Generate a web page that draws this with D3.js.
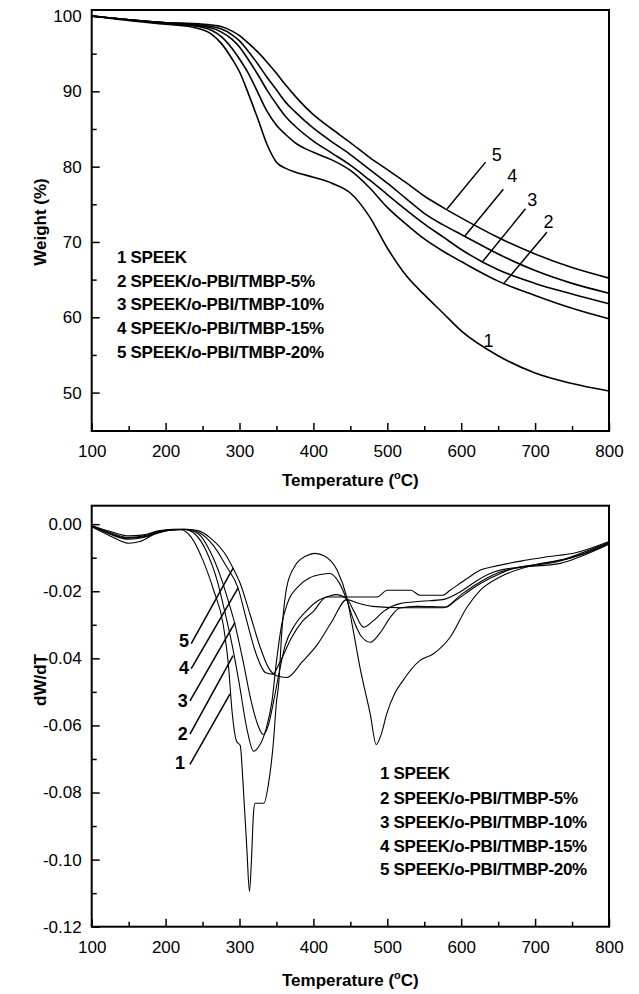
<!DOCTYPE html>
<html>
<head>
<meta charset="utf-8">
<script src="https://cdn.jsdelivr.net/npm/d3@7"></script>
<style>
body { margin: 0; background: #fff; }
text { font-family: Arial, "Liberation Sans", sans-serif; fill: #000; }
</style>
</head>
<body>
<div id="chart"></div>
<script>
// TGA: weight (%) vs temperature, one value per temperature in tgaTemps
const tgaTemps = [100, 150, 200, 237, 262, 275, 290, 300, 312, 325, 337, 350, 362, 375, 400, 425, 450, 475, 500, 525, 550, 575, 600, 650, 700, 750, 800];
const tga1 = [100, 99.4, 98.9, 98.5, 97.6, 96.4, 94.3, 92.6, 89.7, 86.3, 83.0, 80.6, 79.8, 79.3, 78.6, 77.8, 76.5, 73.5, 69.2, 65.6, 63.0, 60.6, 58.2, 54.9, 52.6, 51.2, 50.2];
const tga2 = [100, 99.5, 99.0, 98.7, 98.1, 97.3, 95.7, 94.3, 92.4, 89.8, 87.4, 85.5, 84.3, 83.2, 81.9, 80.9, 79.5, 77.3, 74.6, 72.4, 70.4, 68.8, 67.4, 64.8, 62.9, 61.2, 59.8];
const tga3 = [100, 99.5, 99.1, 98.8, 98.4, 97.9, 96.9, 95.9, 94.2, 92.2, 90.2, 88.3, 86.7, 85.4, 83.4, 81.8, 80.2, 78.3, 76.3, 74.3, 72.4, 70.7, 69.0, 66.3, 64.5, 63.1, 61.8];
const tga4 = [100, 99.5, 99.1, 98.9, 98.6, 98.3, 97.5, 96.7, 95.3, 93.6, 91.9, 90.2, 88.6, 87.3, 85.1, 83.3, 81.6, 79.7, 77.8, 75.8, 73.8, 72.3, 71.0, 68.4, 66.2, 64.5, 63.2];
const tga5 = [100, 99.5, 99.1, 99.0, 98.8, 98.6, 98.0, 97.4, 96.4, 95.2, 93.9, 92.4, 90.9, 89.4, 86.9, 85.0, 83.2, 81.3, 79.6, 77.9, 76.1, 74.6, 73.2, 70.6, 68.4, 66.6, 65.2];

// DTG: [temperature, dW/dT] pairs
const dtg1 = [[100,-0.0008],[125,-0.0035],[150,-0.0057],[165,-0.0052],[185,-0.003],[205,-0.0018],[220,-0.0016],[235,-0.004],[250,-0.0105],[265,-0.0197],[278,-0.030],[285,-0.042],[290,-0.056],[296,-0.0647],[301,-0.066],[305,-0.078],[310,-0.097],[313.5,-0.1095],[316,-0.101],[319,-0.086],[321,-0.0832],[333,-0.0832],[339,-0.0777],[346,-0.0647],[350,-0.053],[353,-0.0477],[357,-0.033],[364,-0.0187],[375,-0.0125],[390,-0.0095],[402,-0.0087],[415,-0.0095],[432,-0.0137],[445,-0.0217],[455,-0.033],[463,-0.0427],[477,-0.0567],[485,-0.0657],[492,-0.0625],[499,-0.0567],[510,-0.0505],[520,-0.047],[544,-0.0407],[562,-0.0387],[585,-0.0337],[608,-0.0247],[626,-0.0197],[653,-0.0157],[698,-0.0122],[743,-0.0102],[770,-0.008],[800,-0.0055]];
const dtg2 = [[100,-0.0005],[125,-0.003],[150,-0.0045],[170,-0.004],[190,-0.0025],[210,-0.0017],[225,-0.0016],[240,-0.003],[255,-0.008],[270,-0.017],[280,-0.026],[290,-0.036],[300,-0.048],[310,-0.061],[319,-0.0677],[327,-0.066],[336,-0.061],[344,-0.0527],[350,-0.041],[357,-0.030],[365,-0.0235],[380,-0.0185],[395,-0.016],[410,-0.015],[422,-0.0147],[435,-0.0175],[445,-0.0225],[455,-0.029],[465,-0.0335],[477,-0.0352],[490,-0.0325],[505,-0.0275],[517,-0.025],[540,-0.0245],[580,-0.0247],[590,-0.0232],[626,-0.0177],[653,-0.0147],[671,-0.0132],[734,-0.0117],[761,-0.0097],[800,-0.006]];
const dtg3 = [[100,-0.0005],[125,-0.0028],[150,-0.0042],[170,-0.0038],[190,-0.0024],[210,-0.0017],[225,-0.0016],[245,-0.003],[260,-0.008],[275,-0.016],[285,-0.023],[294,-0.030],[305,-0.041],[315,-0.052],[325,-0.060],[332,-0.0627],[339,-0.060],[346,-0.053],[353,-0.045],[362,-0.036],[375,-0.030],[390,-0.026],[405,-0.023],[418,-0.0217],[430,-0.021],[445,-0.0222],[455,-0.026],[468,-0.0307],[480,-0.029],[495,-0.026],[517,-0.0237],[545,-0.023],[575,-0.0225],[600,-0.020],[620,-0.017],[645,-0.0142],[690,-0.0125],[730,-0.011],[765,-0.009],[800,-0.0058]];
const dtg4 = [[100,-0.0005],[125,-0.0025],[150,-0.004],[170,-0.0035],[190,-0.0022],[210,-0.0016],[225,-0.0015],[245,-0.0025],[265,-0.0065],[282,-0.0125],[298,-0.019],[310,-0.029],[323,-0.039],[335,-0.0442],[345,-0.0447],[355,-0.041],[370,-0.034],[385,-0.029],[400,-0.026],[418,-0.0217],[440,-0.0217],[486,-0.0217],[500,-0.0197],[532,-0.0197],[544,-0.0212],[575,-0.0212],[585,-0.0197],[608,-0.0162],[626,-0.0137],[643,-0.0127],[689,-0.0107],[716,-0.0097],[752,-0.0087],[800,-0.0052]];
const dtg5 = [[100,-0.0005],[125,-0.0022],[150,-0.0035],[170,-0.0032],[190,-0.002],[210,-0.0015],[230,-0.0015],[245,-0.002],[260,-0.004],[283,-0.0097],[291,-0.013],[301,-0.0177],[314,-0.0267],[328,-0.0367],[339,-0.0427],[350,-0.0452],[364,-0.0457],[385,-0.041],[405,-0.036],[425,-0.029],[445,-0.0225],[460,-0.0235],[480,-0.0245],[520,-0.0249],[576,-0.0249],[600,-0.021],[620,-0.018],[650,-0.0145],[680,-0.0128],[730,-0.0112],[765,-0.0088],[800,-0.0055]];

const legendNames = ["1 SPEEK", "2 SPEEK/o-PBI/TMBP-5%", "3 SPEEK/o-PBI/TMBP-10%", "4 SPEEK/o-PBI/TMBP-15%", "5 SPEEK/o-PBI/TMBP-20%"];

const tempTicks = [100, 200, 300, 400, 500, 600, 700, 800];
const tempMinor = [150, 250, 350, 450, 550, 650, 750];
const weightTicks = [50, 60, 70, 80, 90, 100];
const weightMinor = [55, 65, 75, 85, 95];
const dtgTicks = [0, -0.02, -0.04, -0.06, -0.08, -0.10, -0.12];
const dtgMinor = [-0.01, -0.03, -0.05, -0.07, -0.09, -0.11];

// curve number labels: [label, textT, textY, leaderT0, leaderY0, leaderT1, leaderY1]
const tgaCallouts = [
    ["5", 648, 81.5, 633, 80.6, 581, 74.4],
    ["4", 669, 78.8, 657, 77.0, 605, 70.8],
    ["3", 696, 75.6, 687, 74.4, 629, 67.4],
    ["2", 718, 72.6, 716, 71.3, 657, 64.4]
];
const tgaOne = ["1", 637, 56.8];
const dtgCallouts = [
    ["5", 225, -0.0347, 234.7, -0.0356, 291.3, -0.0131],
    ["4", 225, -0.0428, 234.7, -0.0431, 298, -0.0191],
    ["3", 223.2, -0.0527, 233, -0.0527, 294, -0.0293],
    ["2", 223.2, -0.0626, 233, -0.0626, 291.3, -0.0392],
    ["1", 219.5, -0.0713, 233, -0.0716, 287.2, -0.0506]
];

const W = 639, H = 994;
const svg = d3.select("#chart").append("svg")
    .attr("width", W)
    .attr("height", H);

const left = 91.7, right = 609;

function drawPanel(opt) {
    let x = d3.scaleLinear().domain([100, 800]).range([left, right]);
    let y = d3.scaleLinear().domain(opt.yDomain).range([opt.bottom, opt.top]);
    let g = svg.append("g");

    // ticks, pointing inward
    g.append("g")
        .attr("transform", "translate(0," + opt.bottom + ")")
        .call(d3.axisBottom(x).tickValues(tempTicks).tickSize(-8).tickPadding(14).tickFormat(d3.format("d")));
    g.append("g")
        .attr("transform", "translate(0," + opt.bottom + ")")
        .call(d3.axisBottom(x).tickValues(tempMinor).tickSize(-5).tickFormat(""));
    g.append("g")
        .attr("transform", "translate(" + left + ",0)")
        .call(d3.axisLeft(y).tickValues(opt.yTicks).tickSize(-8).tickPadding(10).tickFormat(opt.fmt));
    g.append("g")
        .attr("transform", "translate(" + left + ",0)")
        .call(d3.axisLeft(y).tickValues(opt.yMinor).tickSize(-5).tickFormat(""));

    g.selectAll(".domain").remove();
    g.selectAll(".tick line").attr("stroke", "#000").attr("stroke-width", 1.5);
    g.selectAll(".tick text").attr("font-size", 17).attr("fill", "#000");

    g.append("rect")
        .attr("x", left)
        .attr("y", opt.top)
        .attr("width", right - left)
        .attr("height", opt.bottom - opt.top)
        .attr("fill", "none")
        .attr("stroke", "#000")
        .attr("stroke-width", 2);

    let line = d3.line()
        .x(d => x(d[0]))
        .y(d => y(d[1]))
        .curve(d3.curveMonotoneX);

    g.selectAll("path.curve")
        .data(opt.series)
        .enter()
        .append("path")
        .attr("class", "curve")
        .attr("d", line)
        .attr("fill", "none")
        .attr("stroke", "#000")
        .attr("stroke-width", opt.lineWidth);

    g.selectAll("line.leader")
        .data(opt.callouts)
        .enter()
        .append("line")
        .attr("class", "leader")
        .attr("x1", d => x(d[3]))
        .attr("y1", d => y(d[4]))
        .attr("x2", d => x(d[5]))
        .attr("y2", d => y(d[6]))
        .attr("stroke", "#000")
        .attr("stroke-width", 1.5);

    g.selectAll("text.num")
        .data(opt.callouts.concat(opt.extra))
        .enter()
        .append("text")
        .attr("class", "num")
        .attr("x", d => x(d[1]))
        .attr("y", d => y(d[2]))
        .attr("text-anchor", "middle")
        .attr("dominant-baseline", "central")
        .attr("font-size", 18)
        .attr("font-weight", opt.numWeight)
        .text(d => d[0]);

    g.selectAll("text.leg")
        .data(legendNames)
        .enter()
        .append("text")
        .attr("class", "leg")
        .attr("x", opt.legX)
        .attr("y", (d, i) => opt.legY[i] + 6)
        .attr("font-size", 17)
        .attr("font-weight", "bold")
        .attr("letter-spacing", -0.3)
        .text(d => d);

    let xt = g.append("text")
        .attr("x", (left + right) / 2)
        .attr("y", opt.xTitleY)
        .attr("text-anchor", "middle")
        .attr("font-size", 17)
        .attr("font-weight", "bold");
    xt.append("tspan").text("Temperature (");
    xt.append("tspan").attr("font-size", 11).attr("dy", -7).text("o");
    xt.append("tspan").attr("dy", 7).text("C)");

    g.append("text")
        .attr("transform", "translate(" + 46 + "," + opt.yTitleY + ") rotate(-90)")
        .attr("text-anchor", "middle")
        .attr("font-size", 17)
        .attr("font-weight", "bold")
        .text(opt.yTitle);
}

drawPanel({
    top: 10,
    bottom: 431,
    yDomain: [44.9, 100.8],
    yTicks: weightTicks,
    yMinor: weightMinor,
    fmt: d3.format("d"),
    series: [tga1, tga2, tga3, tga4, tga5].map(s => s.map((v, i) => [tgaTemps[i], v])),
    lineWidth: 1.6,
    callouts: tgaCallouts,
    extra: [tgaOne],
    numWeight: "normal",
    legX: 117,
    legY: [256.7, 280.7, 304, 328.3, 351.7],
    xTitleY: 486,
    yTitle: "Weight (%)",
    yTitleY: 222
});

drawPanel({
    top: 505.7,
    bottom: 926.7,
    yDomain: [-0.12, 0.0055],
    yTicks: dtgTicks,
    yMinor: dtgMinor,
    fmt: d => d.toFixed(2),
    series: [dtg1, dtg2, dtg3, dtg4, dtg5],
    lineWidth: 1.1,
    callouts: dtgCallouts,
    extra: [],
    numWeight: "bold",
    legX: 380,
    legY: [773.3, 798.3, 821.7, 846, 869.3],
    xTitleY: 986,
    yTitle: "dW/dT",
    yTitleY: 680
});
</script>
</body>
</html>
